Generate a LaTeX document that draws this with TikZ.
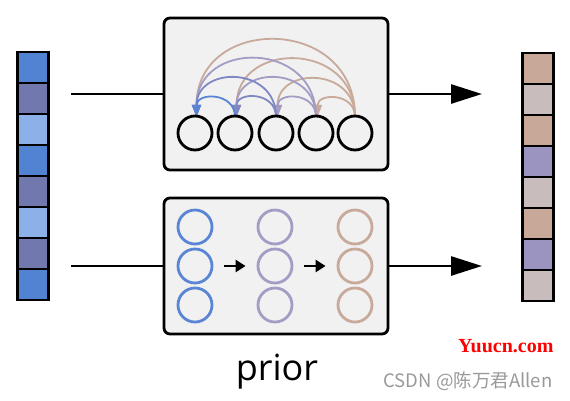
\documentclass[tikz,border=0pt]{standalone}
\usepackage{fontspec}
\setmainfont{Open Sans}
\newfontfamily\cjkfont{Noto Sans CJK SC}
\newfontfamily\wmfont{Liberation Serif}
\usetikzlibrary{arrows.meta}
\definecolor{cBlue}{HTML}{5282D2}
\definecolor{cPurp}{HTML}{7078AE}
\definecolor{cLBlue}{HTML}{8CB0E8}
\definecolor{cTan}{HTML}{C8A898}
\definecolor{cGrayP}{HTML}{C8BCBC}
\definecolor{cLav}{HTML}{9C94C0}
\definecolor{aBlue}{HTML}{5A85D5}
\definecolor{aBP}{HTML}{7F88C4}
\definecolor{aPurp}{HTML}{A49CC4}
\definecolor{aTan}{HTML}{C8AA9A}
\definecolor{boxfill}{HTML}{F1F1F1}
\tikzset{
  cell/.style={draw=black, line width=2.8pt, minimum width=31pt, minimum height=31pt, inner sep=0pt},
  panel/.style={draw=black, line width=2.8pt, fill=boxfill, rounded corners=6pt, minimum width=224pt, inner sep=0pt},
  unit/.style={circle, minimum size=34pt, inner sep=0pt},
  pnode/.style={circle, line width=2.8pt, minimum size=34pt, inner sep=0pt},
  conn/.style={line width=2.8pt},
  bigarrow/.style={line width=2.8pt, -{Triangle[length=31pt,width=19pt]}},
  smallarrow/.style={line width=2.8pt, -{Triangle[length=10pt,width=12pt]}, shorten <=11pt, shorten >=11pt},
  attn/.style={line width=1.8pt, -{Triangle[length=12pt,width=9pt]}, out=90, in=90, looseness=1.65}
}
\begin{document}
\begin{tikzpicture}[x=1pt,y=-1pt]
\useasboundingbox (0,0) rectangle (570,400);
% input vector
\foreach \c [count=\i] in {cBlue,cPurp,cLBlue,cBlue,cPurp,cLBlue,cPurp,cBlue}
  \node[cell, fill=\c] (in\i) at (33,{52+31*(\i-0.5)}) {};
% output vector
\foreach \c [count=\i] in {cTan,cGrayP,cTan,cLav,cGrayP,cTan,cLav,cGrayP}
  \node[cell, fill=\c] (out\i) at (538,{53+31*(\i-0.5)}) {};
% panels
\node[panel, minimum height=152pt] (top) at (276,94) {};
\node[panel, minimum height=136pt] (bot) at (276,266) {};
% connectors
\coordinate (la) at (71,94);
\coordinate (lb) at (71,266);
\coordinate (ra) at (482,94);
\coordinate (rb) at (482,266);
\draw[conn] (la) -- (top.west);
\draw[conn] (lb) -- (bot.west);
\draw[bigarrow] (top.east) -- (ra);
\draw[bigarrow] (bot.east) -- (rb);
% top panel circles
\foreach \x [count=\i] in {195,235,276,316,355}
  \node[unit] (c\i) at (\x,133) {};
% attention arcs
\foreach \j in {1,2,3,4}
  \draw[attn, draw=aTan] ([yshift=-1pt]c5.north) to ([xshift=1.5pt,yshift=-1pt]c\j.north);
\foreach \j in {1,2,3}
  \draw[attn, draw=aPurp] ([yshift=-1pt]c4.north) to ([xshift=1.5pt,yshift=-1pt]c\j.north);
\foreach \j in {1,2}
  \draw[attn, draw=aBP] ([yshift=-1pt]c3.north) to ([xshift=1.5pt,yshift=-1pt]c\j.north);
\draw[attn, draw=aBlue] ([yshift=-1pt]c2.north) to ([xshift=1.5pt,yshift=-1pt]c1.north);
% circles drawn on top of the arcs
\foreach \i in {1,...,5}
  \draw[line width=2.8pt] (c\i) circle (17pt);
% bottom panel circles
\foreach \x/\c [count=\k] in {195/aBlue,275/aPurp,355/aTan}
  \foreach \y [count=\r] in {227,266,305}
    \node[pnode, draw=\c] (p\k\r) at (\x,\y) {};
\draw[smallarrow] (p12) -- (p22);
\draw[smallarrow] (p22) -- (p32);
% label
\node[font=\fontsize{36}{40}\selectfont, anchor=base] (prior) at (277,380) {prior};
% watermarks
\node[font=\wmfont\bfseries\fontsize{20}{22}\selectfont, text=red, anchor=base east] (wm1) at (557,352) {Yuucn.com};
\node[font=\cjkfont\fontsize{18.5}{20}\selectfont, text=black!40, anchor=base east] (wm2) at (556,387) {CSDN @陈万君Allen};
\end{tikzpicture}
\end{document}
